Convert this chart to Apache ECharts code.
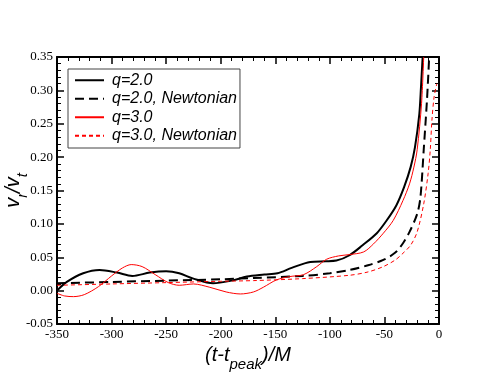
<!DOCTYPE html>
<html>
<head>
<meta charset="utf-8">
<script src="https://cdn.jsdelivr.net/npm/echarts@6/dist/echarts.min.js"></script>
<style>
  html, body { margin: 0; padding: 0; background: #fff; }
  #main { width: 494px; height: 382px; }
</style>
</head>
<body>
<div id="main"></div>
<script>
// 数据 (x = (t-t_peak)/M, y = v_r/v_t)
var q2X = [-350, -341, -326, -311, -295, -281, -265, -250, -238, -225, -207, -190, -176, -160, -148, -135, -118, -104, -94, -82, -70, -57, -48, -39, -32, -26, -22, -18, -16.5, -15];
var q2Y = [0.000, 0.013, 0.026, 0.031, 0.027, 0.022, 0.027, 0.029, 0.026, 0.018, 0.011, 0.015, 0.021, 0.024, 0.026, 0.034, 0.043, 0.044, 0.045, 0.053, 0.068, 0.086, 0.105, 0.128, 0.155, 0.185, 0.215, 0.265, 0.305, 0.35];

var q2NX = [-350, -300, -250, -200, -170, -125, -100, -82, -65, -51, -40, -33, -27, -20, -17, -14, -11, -9];
var q2NY = [0.011, 0.013, 0.015, 0.017, 0.019, 0.022, 0.026, 0.031, 0.038, 0.046, 0.057, 0.071, 0.088, 0.115, 0.14, 0.211, 0.286, 0.35];

var q3X = [-350, -343, -335, -325, -312, -300, -290, -282, -272, -260, -248, -238, -225, -210, -195, -182, -170, -161, -149, -137, -124, -112, -103, -92, -82, -69, -60, -51, -42, -33, -27, -23, -20, -16, -14];
var q3Y = [-0.004, -0.008, -0.009, -0.006, 0.006, 0.022, 0.034, 0.039, 0.036, 0.024, 0.012, 0.008, 0.010, 0.005, -0.002, -0.005, -0.002, 0.005, 0.016, 0.021, 0.024, 0.036, 0.047, 0.052, 0.054, 0.058, 0.070, 0.086, 0.105, 0.135, 0.160, 0.185, 0.211, 0.28, 0.35];

var q3NX = [-350, -300, -250, -200, -170, -125, -82, -65, -51, -40, -33, -26, -20, -14, -10, -8, -6.5, -4.5, -2];
var q3NY = [0.008, 0.010, 0.012, 0.014, 0.015, 0.018, 0.023, 0.028, 0.036, 0.046, 0.056, 0.068, 0.088, 0.13, 0.175, 0.211, 0.255, 0.29, 0.31];

var names = ['q=2.0', 'q=2.0, Newtonian', 'q=3.0', 'q=3.0, Newtonian'];

function pairs(xs, ys) {
    var out = [];
    for (var i = 0; i < xs.length; i++) out.push([xs[i], ys[i]]);
    return out;
}

var chart = echarts.init(document.getElementById('main'));

var axisLine = { show: true, onZero: false, lineStyle: { color: '#000', width: 2 } };
var axisTick = { inside: true, length: 7, lineStyle: { color: '#000', width: 1.5 } };
var minorTick = { show: true, splitNumber: 5, length: 4, lineStyle: { color: '#000', width: 1 } };
var tickLabel = { fontFamily: 'Liberation Serif', fontSize: 13, color: '#000' };
var titleRich = {
    a: { fontFamily: 'Liberation Sans', fontStyle: 'italic', fontSize: 20, color: '#000', verticalAlign: 'bottom', padding: [0, 0, 7, 0] },
    s: { fontFamily: 'Liberation Sans', fontStyle: 'italic', fontSize: 15, color: '#000', verticalAlign: 'bottom' }
};

var option = {
    animation: false,
    backgroundColor: '#fff',
    grid: { left: 57, right: 55, top: 57, bottom: 58, containLabel: false, outerBoundsMode: 'none' },
    legend: {
        orient: 'vertical',
        left: 68,
        top: 69,
        data: names,
        backgroundColor: '#fff',
        borderColor: '#444',
        borderWidth: 1,
        padding: [3, 3, 4, 6],
        itemWidth: 29,
        itemHeight: 14,
        itemGap: 2,
        itemStyle: { opacity: 0 },
        textStyle: {
            fontFamily: 'Liberation Sans',
            fontStyle: 'italic',
            fontSize: 16,
            lineHeight: 16.5,
            color: '#000',
            padding: [0, 0, 0, 3]
        }
    },
    xAxis: [{
        type: 'value',
        min: -350, max: 0, interval: 50,
        position: 'bottom',
        axisLine: axisLine,
        axisTick: axisTick,
        minorTick: minorTick,
        splitLine: { show: false },
        axisLabel: Object.assign({ margin: 4 }, tickLabel),
        name: '{a|(t-t}{s|peak}{a|)/M}',
        nameLocation: 'middle',
        nameGap: 21,
        nameMoveOverlap: false,
        nameTextStyle: { rich: titleRich }
    }, {
        type: 'value',
        min: -350, max: 0, interval: 50,
        position: 'top',
        axisLine: axisLine,
        axisTick: axisTick,
        minorTick: minorTick,
        splitLine: { show: false },
        axisLabel: { show: false }
    }],
    yAxis: [{
        type: 'value',
        min: -0.05, max: 0.35, interval: 0.05,
        position: 'left',
        axisLine: axisLine,
        axisTick: axisTick,
        minorTick: minorTick,
        splitLine: { show: false },
        axisLabel: Object.assign({ margin: 4, formatter: function (v) { return v.toFixed(2); } }, tickLabel),
        name: '{a|v}{s|r}{a|/v}{s|t}',
        nameLocation: 'middle',
        nameRotate: 90,
        nameGap: 27,
        nameMoveOverlap: false,
        nameTextStyle: { rich: titleRich }
    }, {
        type: 'value',
        min: -0.05, max: 0.35, interval: 0.05,
        position: 'right',
        axisLine: axisLine,
        axisTick: axisTick,
        minorTick: minorTick,
        splitLine: { show: false },
        axisLabel: { show: false }
    }],
    series: [{
        name: names[0], type: 'line', symbol: 'none', smooth: 0.3, clip: true,
        data: pairs(q2X, q2Y),
        lineStyle: { color: '#000', width: 2 },
        itemStyle: { color: '#000' }
    }, {
        name: names[1], type: 'line', symbol: 'none', smooth: 0.3, clip: true,
        data: pairs(q2NX, q2NY),
        lineStyle: { color: '#000', width: 2, type: [9, 5] },
        itemStyle: { color: '#000' }
    }, {
        name: names[2], type: 'line', symbol: 'none', smooth: 0.3, clip: true,
        data: pairs(q3X, q3Y),
        lineStyle: { color: '#ff0000', width: 1 },
        itemStyle: { color: '#ff0000' }
    }, {
        name: names[3], type: 'line', symbol: 'none', smooth: 0.3, clip: true,
        data: pairs(q3NX, q3NY),
        lineStyle: { color: '#ff0000', width: 1, type: [4, 3] },
        itemStyle: { color: '#ff0000' }
    }]
};

chart.setOption(option);
</script>
</body>
</html>
